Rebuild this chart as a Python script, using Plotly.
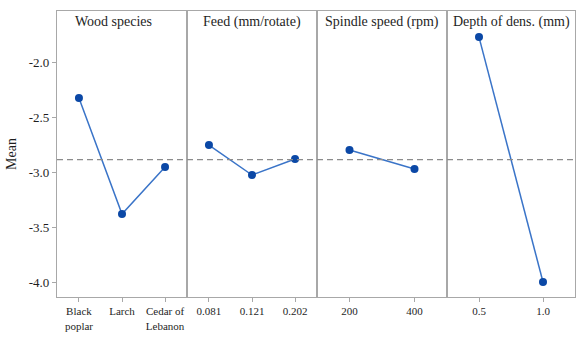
import plotly.graph_objects as go
from plotly.subplots import make_subplots

# Main-effects data: mean response per factor level
factor_titles = ["Wood species", "Feed (mm/rotate)", "Spindle speed (rpm)", "Depth of dens. (mm)"]

wood_levels = ["Black poplar", "Larch", "Cedar of Lebanon"]
wood_labels = ["Black<br>poplar", "Larch", "Cedar of<br>Lebanon"]
wood_means = [-2.327, -3.382, -2.955]

feed_levels = ["0.081", "0.121", "0.202"]
feed_labels = ["0.081", "0.121", "0.202"]
feed_means = [-2.755, -3.027, -2.882]

speed_levels = ["200", "400"]
speed_labels = ["200", "400"]
speed_means = [-2.800, -2.973]

depth_levels = ["0.5", "1.0"]
depth_labels = ["0.5", "1.0"]
depth_means = [-1.773, -4.000]

y_tick_vals = [-4.0, -3.5, -3.0, -2.5, -2.0]
y_tick_text = ["-4.0", "-3.5", "-3.0", "-2.5", "-2.0"]

panels = [
    (wood_levels, wood_labels, wood_means),
    (feed_levels, feed_labels, feed_means),
    (speed_levels, speed_labels, speed_means),
    (depth_levels, depth_labels, depth_means),
]

grand_mean = sum(wood_means) / len(wood_means)

FONT = "Liberation Serif, Times New Roman, serif"
TEXT_C = "#1e1e1e"
LINE_C = "#3a74c8"
MARK_C = "#0b48a6"
BORDER = "#a8a8a8"

fig = make_subplots(rows=1, cols=4, shared_yaxes=True, horizontal_spacing=0,
                    column_widths=[130, 130, 130, 128])

for i, (levels, labels, means) in enumerate(panels, start=1):
    fig.add_trace(go.Scatter(
        x=levels, y=means, mode="lines+markers",
        line=dict(color=LINE_C, width=1.5),
        marker=dict(color=MARK_C, size=8),
        showlegend=False, hoverinfo="x+y",
    ), row=1, col=i)
    n = len(levels)
    pad = 0.51 if n == 3 else 0.5
    fig.update_xaxes(
        type="category", categoryorder="array", categoryarray=levels,
        tickvals=levels, ticktext=labels,
        range=[-pad, n - 1 + pad],
        showline=True, linecolor=BORDER, linewidth=1.2, mirror=True,
        ticks="outside", ticklen=4, tickcolor=BORDER,
        showgrid=False, zeroline=False,
        tickfont=dict(family=FONT, size=11, color=TEXT_C),
        row=1, col=i,
    )
    fig.update_yaxes(
        range=[-4.136, -1.536],
        showline=True, linecolor=BORDER, linewidth=1.2, mirror=True,
        showgrid=False, zeroline=False,
        row=1, col=i,
    )
    # grand-mean reference line
    fig.add_hline(y=grand_mean, line=dict(color="#8c8c8c", width=1.2, dash="6px,4px"),
                  row=1, col=i)

fig.update_yaxes(
    tickvals=y_tick_vals, ticktext=y_tick_text,
    ticks="outside", ticklen=4, tickcolor=BORDER,
    tickfont=dict(family=FONT, size=13, color=TEXT_C),
    title=dict(text="Mean", font=dict(family=FONT, size=14, color=TEXT_C), standoff=8),
    row=1, col=1,
)
for c in (2, 3, 4):
    fig.update_yaxes(ticks="", showticklabels=False, row=1, col=c)

# factor titles at the top of each panel
domains = [fig.layout.xaxis.domain, fig.layout.xaxis2.domain,
           fig.layout.xaxis3.domain, fig.layout.xaxis4.domain]
title_shift = [-9, 0, 0, 0]
for title, dom, shift in zip(factor_titles, domains, title_shift):
    fig.add_annotation(
        text=title, x=(dom[0] + dom[1]) / 2, xref="paper", xanchor="center",
        xshift=shift, y=1, yref="paper", yanchor="top", yshift=-1, showarrow=False,
        font=dict(family=FONT, size=14, color=TEXT_C),
    )

fig.update_layout(
    width=576, height=338,
    margin=dict(l=57, r=1, t=11, b=41),
    paper_bgcolor="white", plot_bgcolor="white",
    font=dict(family=FONT),
)

fig.write_html("out.html")
